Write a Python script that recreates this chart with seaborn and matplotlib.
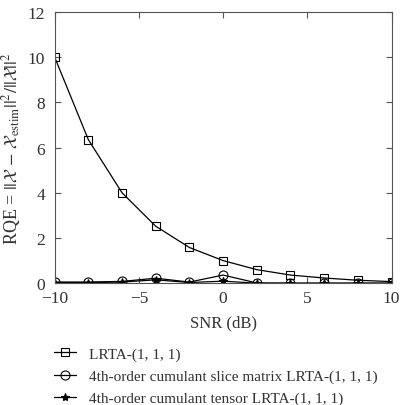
import pandas as pd
import matplotlib
matplotlib.use('Agg')
import matplotlib.pyplot as plt
import seaborn as sns
import numpy as np

snr = [-10, -8, -6, -4, -2, 0, 2, 4, 6, 8, 10]
lrta = [10.0, 6.35, 4.0, 2.52, 1.58, 1.0, 0.6, 0.36, 0.23, 0.13, 0.07]
slice_mat = [0.05, 0.05, 0.08, 0.22, 0.05, 0.36, 0.01, 0.0, 0.0, 0.0, 0.0]
tensor = [0.03, 0.03, 0.05, 0.15, 0.03, 0.09, 0.0, 0.0, 0.0, 0.0, 0.0]
labels = ['LRTA-(1, 1, 1)',
          '4th-order cumulant slice matrix LRTA-(1, 1, 1)',
          '4th-order cumulant tensor LRTA-(1, 1, 1)']

sns.set_style('ticks')
plt.rcParams['font.family'] = ['Liberation Serif', 'DejaVu Serif']
plt.rcParams['mathtext.fontset'] = 'stix'

fig = plt.figure(figsize=(4.02, 4.06), dpi=100)
ax = fig.add_axes([0.136, 0.300, 0.838, 0.668])

styles = [('s', 5.5, 'none'), ('o', 6.5, 'none'), ('*', 6, 'black')]
for vals, lab, (m, ms, fc) in zip([lrta, slice_mat, tensor], labels, styles):
    df = pd.DataFrame({'snr': snr, 'rqe': vals})
    sns.lineplot(data=df, x='snr', y='rqe', ax=ax, color='black', lw=0.9,
                 marker=m, markersize=ms, markerfacecolor=fc,
                 markeredgecolor='black', markeredgewidth=0.8, label=lab)

ax.set_xlim(-10, 10)
ax.set_ylim(0, 12)
ax.set_xticks(np.arange(-10, 10.1, 5))
ax.set_yticks(np.arange(0, 12.1, 2))
ax.set_xticklabels(['\u221210', '\u22125', '0', '5', '10'])
ax.tick_params(direction='in', top=True, right=True, labelsize=12.5, length=4,
               color='#555555', labelcolor='#333333')
ax.tick_params(axis='y', pad=7)
ax.tick_params(axis='x', pad=5)
for s in ax.spines.values():
    s.set_color('#555555')
    s.set_linewidth(0.8)
ax.set_xlabel('SNR (dB)', fontsize=12, color='#333333', labelpad=6)
ax.set_ylabel(r'RQE = $||\mathcal{X}\,-\,\mathcal{X}_{\mathrm{estim}}||^2/||\mathcal{X}||^2$',
              fontsize=13, color='#333333', labelpad=3)

handles, labs = ax.get_legend_handles_labels()
ax.get_legend().remove()
fig.legend(handles, labs, loc='upper left', bbox_to_anchor=(0.12, 0.158),
           frameon=False, fontsize=11, handlelength=1.4, labelspacing=0.55,
           handletextpad=0.9, borderaxespad=0, labelcolor='#333333')

fig.savefig('out.png', dpi=100)
